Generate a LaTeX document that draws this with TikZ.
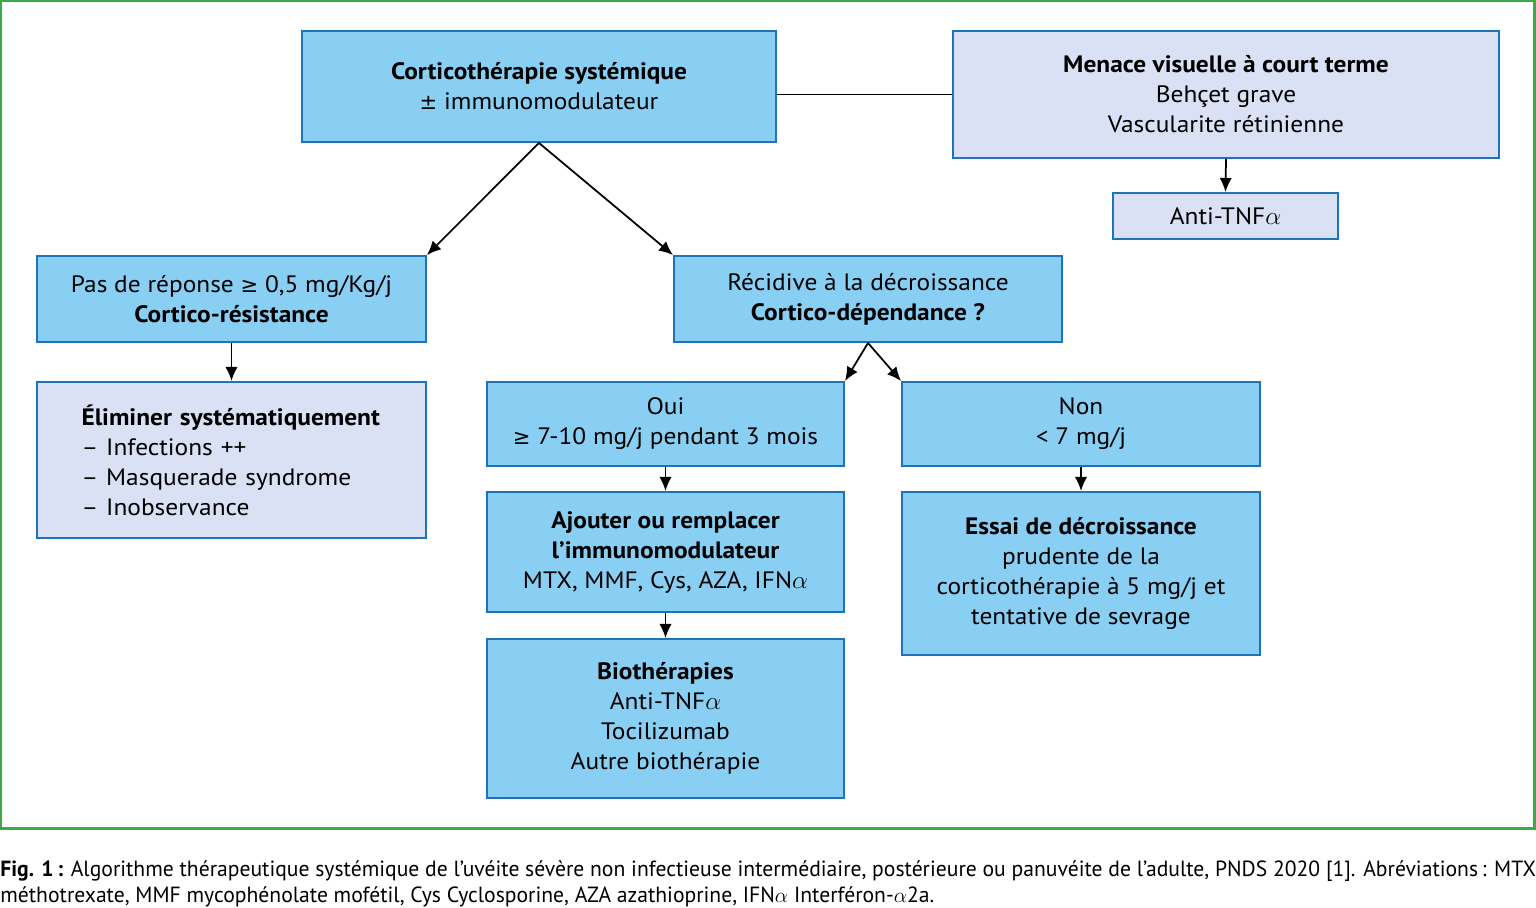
\documentclass[tikz,border=0pt]{standalone}
\usepackage{fontspec}
\setmainfont{PT Sans}[FakeStretch=1.07]
\newfontfamily\capfont[FakeStretch=0.985]{PT Sans}
\newfontfamily\dvfont{DejaVu Sans}
\newcommand{\myge}{{\dvfont\fontsize{12}{14}\selectfont ≥}}
\newcommand{\mypm}{{\dvfont\fontsize{12}{14}\selectfont ±}}
\usetikzlibrary{arrows.meta}
\definecolor{bfill}{RGB}{136,207,243}
\definecolor{bdraw}{RGB}{30,115,185}
\definecolor{lfill}{RGB}{218,225,245}
\definecolor{gborder}{RGB}{60,170,70}
\newcommand{\mybox}[7]{\node[#6, minimum width={(#4-#2)*0.02cm}, minimum height={(#5-#3)*0.02cm}] (#1) at ({(#2+#4)/2},{(#3+#5)/2}) {#7};}
\begin{document}
\begin{tikzpicture}[x=0.02cm,y=-0.02cm,
  base/.style={draw=bdraw,line width=1.1pt,inner sep=0pt,align=center,text=black,
    font=\fontsize{13.5}{17.07}\selectfont},
  bbox/.style={base,fill=bfill},
  lbox/.style={base,fill=lfill},
  arr/.style={-{Latex[length=8pt,width=7pt]},line width=1pt,black},
  conn/.style={line width=1pt,black}]
\useasboundingbox (0,0) rectangle (1536,907);
\draw[gborder,line width=1.7pt] (1,1) rectangle (1534,828);

\mybox{cort}{302}{31}{776}{142}{bbox}{\textbf{Corticothérapie systémique}\\\mypm{} immunomodulateur}
\mybox{men}{953}{31}{1499}{158}{lbox}{\textbf{Menace visuelle à court terme}\\Behçet grave\\Vascularite rétinienne}
\mybox{anti}{1113}{193}{1338}{239}{lbox}{Anti-TNF$\alpha$}
\mybox{pas}{37}{256}{426}{342}{bbox}{Pas de réponse \myge{} 0,5 mg/Kg/j\\\textbf{Cortico-résistance}}
\mybox{rec}{674}{256}{1062}{342}{bbox}{Récidive à la décroissance\\\textbf{Cortico-dépendance ?}}
\mybox{elim}{37}{382}{426}{538}{lbox,align=left,text width=6.0cm}{\textbf{Éliminer systématiquement}\\– Infections ++\\– Masquerade syndrome\\– Inobservance}
\mybox{oui}{487}{382}{844}{466}{bbox}{Oui\\\myge{} 7-10 mg/j pendant 3 mois}
\mybox{non}{902}{382}{1260}{466}{bbox}{Non\\< 7 mg/j}
\mybox{ajo}{487}{492}{844}{612}{bbox}{\textbf{Ajouter ou remplacer}\\\textbf{l’immunomodulateur}\\MTX, MMF, Cys, AZA, IFN$\alpha$}
\mybox{ess}{902}{492}{1260}{655}{bbox}{\textbf{Essai de décroissance}\\prudente de la\\corticothérapie à 5 mg/j et\\tentative de sevrage}
\mybox{bio}{487}{639}{844}{798}{bbox}{\textbf{Biothérapies}\\Anti-TNF$\alpha$\\Tocilizumab\\Autre biothérapie}

\draw[conn] (men.west -| cort.east) -- (men.west);
\draw[arr] (men.south) -- (anti.north);
\draw[arr] (cort.south) -- (pas.north east);
\draw[arr] (cort.south) -- (rec.north west);
\draw[arr] (pas.south) -- (elim.north);
\draw[arr] (rec.south) -- (oui.north east);
\draw[arr] (rec.south) -- (non.north west);
\draw[arr] (oui.south) -- (ajo.north);
\draw[arr] (ajo.south) -- (bio.north);
\draw[arr] (non.south) -- (ess.north);

\node[anchor=north west,inner sep=0pt,text width=30.72cm,align=justify,
  font=\capfont\fontsize{12.5}{14.8}\selectfont] (cap) at (0,860)
  {\textbf{Fig. 1\,:} Algorithme thérapeutique systémique de l’uvéite sévère non infectieuse intermédiaire, postérieure ou panuvéite de l’adulte, PNDS 2020 [1]. Abréviations\,: MTX\linebreak méthotrexate, MMF mycophénolate mofétil, Cys Cyclosporine, AZA azathioprine, IFN$\alpha$ Interféron-$\alpha$2a.};
\end{tikzpicture}
\end{document}
